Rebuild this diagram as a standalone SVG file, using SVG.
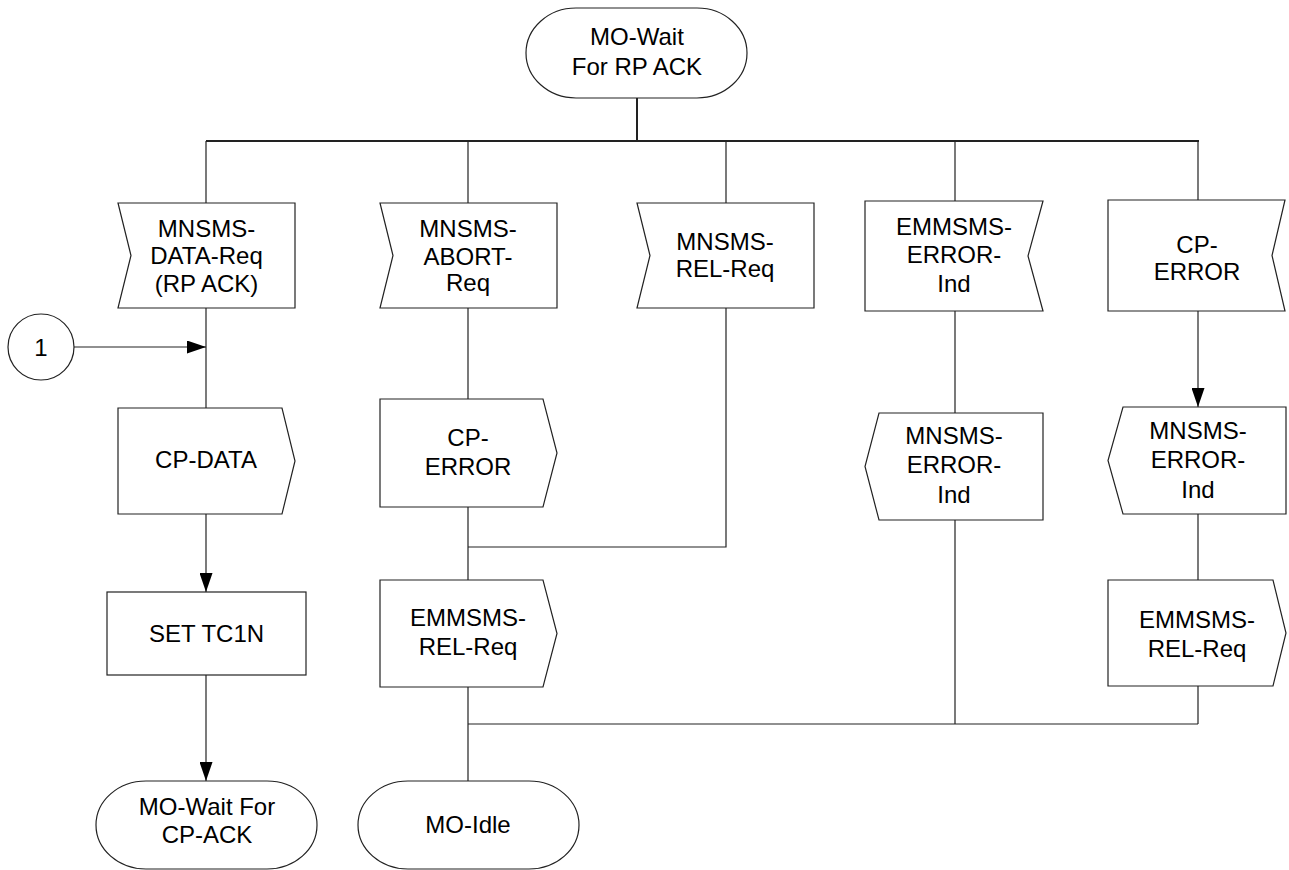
<svg xmlns="http://www.w3.org/2000/svg" width="1289" height="870" viewBox="0 0 1289 870">
<defs>
<marker id="arr" viewBox="0 0 19 13" refX="19" refY="6.5" markerWidth="19" markerHeight="13" markerUnits="userSpaceOnUse" orient="auto">
<path d="M0,0 L19,6.5 L0,13 z" fill="#000"/>
</marker>
<style>
.s{fill:#fff;stroke:#222;stroke-width:1.2}
.t{font-family:"Liberation Sans",Arial,sans-serif;font-size:24px;fill:#000;text-anchor:middle}
.c{fill:none;stroke:#222;stroke-width:1.2}
.b{fill:none;stroke:#222;stroke-width:2}
</style>
</defs>
<rect width="1289" height="870" fill="#fff"/>
<g id="connectors">
<path class="b" d="M637,98 V141"/>
<path class="b" d="M206,141 H1199"/>
<path class="c" d="M206,141 V203 M468,141 V203 M726,141 V203 M955,141 V201 M1198,141 V200"/>
<path class="c" d="M206,308 V408"/>
<path class="c" d="M74,347 H206" marker-end="url(#arr)"/>
<path class="c" d="M206,514 V592" marker-end="url(#arr)"/>
<path class="c" d="M206,675 V781" marker-end="url(#arr)"/>
<path class="c" d="M468,308 V399 M468,507 V580 M468,687 V781"/>
<path class="c" d="M726,308 V547 H468"/>
<path class="c" d="M955,311 V413 M955,520 V724"/>
<path class="c" d="M1198,311 V407" marker-end="url(#arr)"/>
<path class="c" d="M1198,514 V580 M1198,686 V724"/>
<path class="c" d="M468,724 H1198"/>
</g>
<g id="start">
<rect class="s" x="526" y="8" width="221" height="90" rx="50" ry="45"/>
<text class="t" x="637" y="45">MO-Wait</text>
<text class="t" x="637" y="75">For RP ACK</text>
</g>
<g id="in-data-req">
<polygon class="s" points="118,203 295,203 295,308 118,308 131,255.5"/>
<text class="t" x="206.5" y="237">MNSMS-</text>
<text class="t" x="206.5" y="264">DATA-Req</text>
<text class="t" x="206.5" y="292">(RP ACK)</text>
</g>
<g id="in-abort-req">
<polygon class="s" points="380,203 557,203 557,308 380,308 393,255.5"/>
<text class="t" x="468" y="237">MNSMS-</text>
<text class="t" x="468" y="265">ABORT-</text>
<text class="t" x="468" y="291">Req</text>
</g>
<g id="in-rel-req">
<polygon class="s" points="637,203 814,203 814,308 637,308 650,255.5"/>
<text class="t" x="725" y="250">MNSMS-</text>
<text class="t" x="725" y="277">REL-Req</text>
</g>
<g id="in-emm-error-ind">
<polygon class="s" points="865,201 1043,201 1028,256 1043,311 865,311"/>
<text class="t" x="954" y="235">EMMSMS-</text>
<text class="t" x="954" y="263">ERROR-</text>
<text class="t" x="954" y="292">Ind</text>
</g>
<g id="in-cp-error">
<polygon class="s" points="1108,200 1285,200 1272,255.5 1285,311 1108,311"/>
<text class="t" x="1197" y="253">CP-</text>
<text class="t" x="1197" y="280">ERROR</text>
</g>
<g id="connector-1">
<circle class="s" cx="41" cy="347" r="33"/>
<text class="t" x="41" y="356">1</text>
</g>
<g id="out-cp-data">
<polygon class="s" points="118,408 282,408 295,461 282,514 118,514"/>
<text class="t" x="206" y="468">CP-DATA</text>
</g>
<g id="set-tc1n">
<rect class="s" x="107" y="592" width="199" height="83"/>
<text class="t" x="206.5" y="642">SET TC1N</text>
</g>
<g id="end-wait-cp-ack">
<rect class="s" x="96" y="781" width="221" height="88" rx="50" ry="44"/>
<text class="t" x="207" y="815">MO-Wait For</text>
<text class="t" x="207" y="843">CP-ACK</text>
</g>
<g id="out-cp-error">
<polygon class="s" points="380,399 543,399 557,453 543,507 380,507"/>
<text class="t" x="468" y="446">CP-</text>
<text class="t" x="468" y="475">ERROR</text>
</g>
<g id="out-emm-rel-req-1">
<polygon class="s" points="380,580 543,580 557,633.5 543,687 380,687"/>
<text class="t" x="468" y="626">EMMSMS-</text>
<text class="t" x="468" y="655">REL-Req</text>
</g>
<g id="end-idle">
<rect class="s" x="358" y="781" width="221" height="88" rx="50" ry="44"/>
<text class="t" x="468" y="833">MO-Idle</text>
</g>
<g id="out-mn-error-ind-1">
<polygon class="s" points="879,413 1043,413 1043,520 879,520 865,466.5"/>
<text class="t" x="954" y="444">MNSMS-</text>
<text class="t" x="954" y="473">ERROR-</text>
<text class="t" x="954" y="503">Ind</text>
</g>
<g id="out-mn-error-ind-2">
<polygon class="s" points="1123,407 1286,407 1286,514 1123,514 1108,460.5"/>
<text class="t" x="1198" y="439">MNSMS-</text>
<text class="t" x="1198" y="468">ERROR-</text>
<text class="t" x="1198" y="498">Ind</text>
</g>
<g id="out-emm-rel-req-2">
<polygon class="s" points="1108,580 1273,580 1286,633 1273,686 1108,686"/>
<text class="t" x="1197" y="628">EMMSMS-</text>
<text class="t" x="1197" y="657">REL-Req</text>
</g>
</svg>
